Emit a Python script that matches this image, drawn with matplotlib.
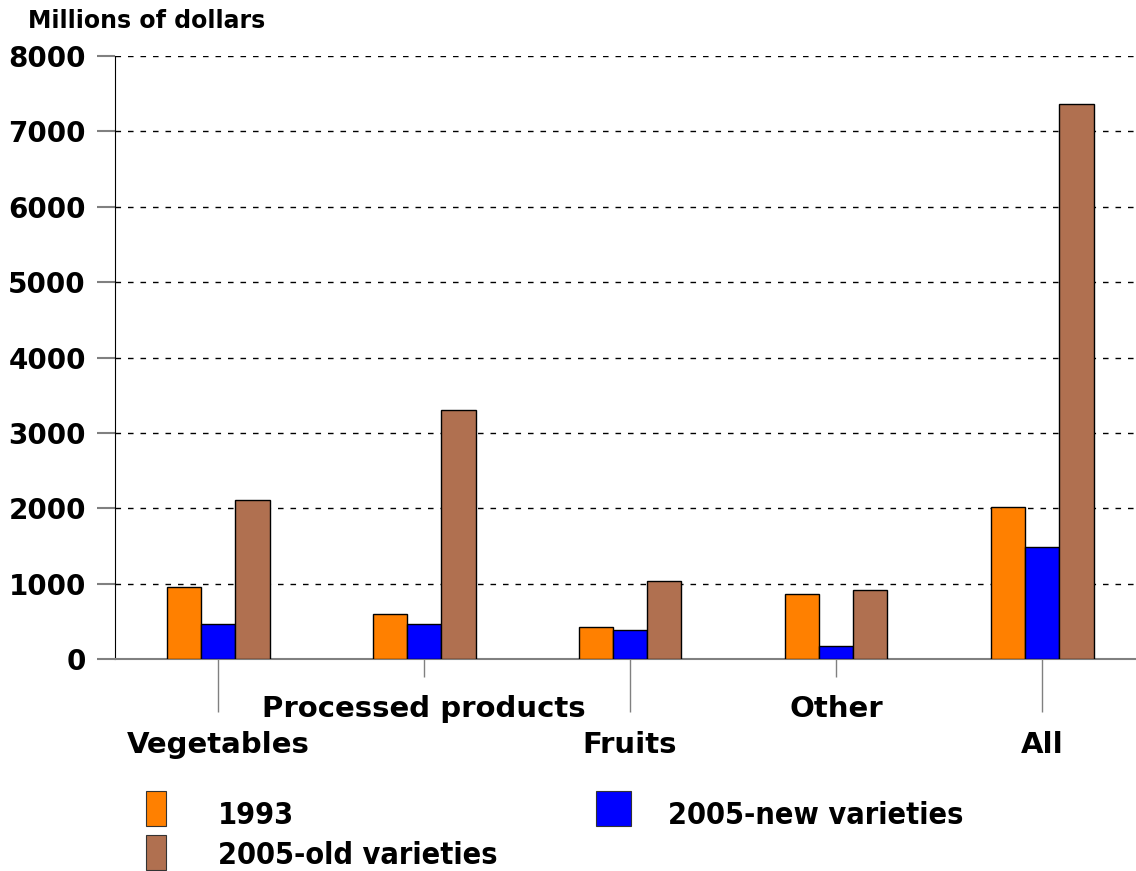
import numpy as np
import matplotlib
matplotlib.use("Agg")
import matplotlib.pyplot as plt
from matplotlib.patches import Rectangle

# values (millions of dollars)
categories = ["Vegetables", "Processed products", "Fruits", "Other", "All"]
series_names = ["1993", "2005-new varieties", "2005-old varieties"]
vals_1993 = [950, 600, 420, 860, 2020]
vals_new = [460, 460, 380, 170, 1480]
vals_old = [2110, 3300, 1030, 920, 7360]
yticks = [0, 1000, 2000, 3000, 4000, 5000, 6000, 7000, 8000]

colors = ["#FF8000", "#0000FF", "#B07050"]

fig = plt.figure(figsize=(11.36, 8.71), dpi=100)
W, H = 1136, 871
ax = fig.add_axes([115 / W, (H - 659) / H, 1030 / W, (659 - 56) / H])

x = np.arange(len(categories))
bw = 0.5 / 3
for i, (vals, c) in enumerate(zip([vals_1993, vals_new, vals_old], colors)):
    ax.bar(x + (i - 1) * bw, vals, width=bw, color=c, edgecolor="black",
           linewidth=1, zorder=3)

ax.set_xlim(-0.5, 4.5)
ax.set_ylim(0, 8000)
ax.set_yticks(yticks)
ax.set_yticklabels([str(v) for v in yticks], fontsize=20, fontweight="bold")
ax.tick_params(axis="y", length=13, width=1.5, color="#808080", pad=8)

# staggered category labels: long ticks for 0,2,4, short for 1,3
ax.set_xticks([0, 2, 4], labels=[categories[0], categories[2], categories[4]])
ax.set_xticks([1, 3], labels=[categories[1], categories[3]], minor=True)
for lab in ax.get_xticklabels(which="both"):
    lab.set_fontsize(21)
    lab.set_fontweight("bold")
ax.tick_params(axis="x", which="major", length=38, width=1, color="#808080", pad=14)
ax.tick_params(axis="x", which="minor", length=13, width=1, color="#808080", pad=13)

ax.grid(axis="y", linestyle=(0, (4, 5)), color="black", linewidth=1)
ax.set_axisbelow(True)
for s in ["top", "right"]:
    ax.spines[s].set_visible(False)
ax.spines["left"].set_color("black")
ax.spines["bottom"].set_color("#808080")
ax.spines["bottom"].set_linewidth(1.5)

fig.text(28 / W, 1 - 21 / H, "Millions of dollars", fontsize=17,
         fontweight="bold", va="center", ha="left")

# legend drawn by hand to match the original placement
leg = [(146, 791, 218, 815, 0), (596, 791, 668, 815, 1), (146, 835, 218, 855, 2)]
for px, py, tx, ty, k in leg:
    fig.patches.append(Rectangle((px / W, 1 - (py + 35) / H), 20 / W if k != 1 else 35 / W,
                                 35 / H, transform=fig.transFigure,
                                 facecolor=colors[k], edgecolor="#333333", linewidth=0.8))
    fig.text(tx / W, 1 - ty / H, series_names[k], fontsize=22, fontweight="bold",
             fontstretch="condensed", va="center", ha="left")

fig.savefig("out.png", dpi=100)
